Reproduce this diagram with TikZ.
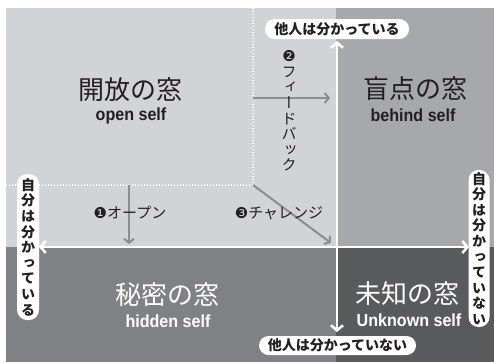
\documentclass[tikz,border=0pt]{standalone}
\usepackage{fontspec}
\usetikzlibrary{arrows.meta}
\newfontfamily\jp{Noto Sans CJK JP}
\newfontfamily\jpv{Noto Sans CJK JP}[RawFeature=+vert]
\newfontfamily\en{Liberation Sans}[FakeStretch=0.92]
\newfontfamily\djv{DejaVu Sans}
\definecolor{cA}{RGB}{210,211,213}
\definecolor{cB}{RGB}{167,168,171}
\definecolor{cC}{RGB}{128,129,132}
\definecolor{cD}{RGB}{89,90,92}
\definecolor{agray}{RGB}{140,141,143}
\definecolor{ink}{RGB}{35,31,32}
\begin{document}
\begin{tikzpicture}[x=1pt,y=-1pt,
  title/.style={inner sep=0pt,font=\jp\fontsize{26}{26}\selectfont},
  sub/.style={inner sep=0pt,font=\en\bfseries\fontsize{17.5}{17.5}\selectfont},
  num/.style={inner sep=0pt,text=ink,font=\jp\fontsize{15}{15}\selectfont},
  garrow/.style={draw=agray,line width=2pt,-{Straight Barb[length=4pt,width=10pt]}},
  axis/.style={draw=white,line width=2.6pt,{Straight Barb[length=5pt,width=12pt]}-{Straight Barb[length=5pt,width=12pt]}},
  hpill/.style={fill=white,rounded corners=9.5pt,inner sep=0pt,text=ink,font=\jp\bfseries\fontsize{14}{14}\selectfont},
  vpill/.style={fill=white,rounded corners=10pt,inner sep=0pt,text=ink,align=center,font=\jpv\bfseries\fontsize{14}{15.6}\selectfont}]
\useasboundingbox (0,0) rectangle (494,362);
% quadrants
\fill[cA] (6,8) rectangle (336,247);
\fill[cB] (336,8) rectangle (494,247);
\fill[cC] (6,247) rectangle (336,362);
\fill[cD] (336,247) rectangle (494,362);
% dotted boundary of expanded open window
\coordinate (dl) at (6,185);
\coordinate (dc) at (253,185);
\coordinate (dt) at (253,8);
\draw[white,line width=1.3pt,dash pattern=on 1.4pt off 1.6pt] (dl) -- (dc) -- (dt);
% gray arrows
\coordinate (fbs) at (253,98);
\coordinate (fbe) at (330,98);
\coordinate (ops) at (129,185);
\coordinate (ope) at (129,244);
\coordinate (chs) at (253,185);
\coordinate (che) at (331,243);
\draw[garrow] (fbs) -- (fbe);
\draw[garrow] (ops) -- (ope);
\draw[garrow] (chs) -- (che);
% axes
\coordinate (vt) at (337,41);
\coordinate (vb) at (337,332);
\coordinate (hl) at (39,247);
\coordinate (hr) at (469,247);
\draw[axis] (vt) -- (vb);
\draw[axis] (hl) -- (hr);
% titles
\node[title,text=ink] (t1) at (130,90) {開放の窓};
\node[sub,text=ink] (s1) at (131,116) {open self};
\node[title,text=ink] (t2) at (415,89) {盲点の窓};
\node[sub,text=ink] (s2) at (413,115) {behind self};
\node[title,text=white] (t3) at (167,295) {秘密の窓};
\node[sub,text=white] (s3) at (168,321) {hidden self};
\node[title,text=white] (t4) at (407,294) {未知の窓};
\node[sub,text=white] (s4) at (409,320) {Unknown self};
% numbered labels
\node[num] (n1) at (130,213) {{\djv ❶}オープン};
\node[num] (n3) at (279,213) {{\djv ❸}チャレンジ};
\node[num,align=center,font=\jpv\fontsize{15}{15.6}\selectfont] (n2) at (289,111) {{\djv ❷}\\フ\\ィ\\ー\\ド\\バ\\ッ\\ク};
% pills
\node[hpill,minimum width=144pt,minimum height=20pt] (p1) at (337,29) {他人は分かっている};
\node[hpill,minimum width=157pt,minimum height=19pt] (p2) at (337.5,345.5) {他人は分かっていない};
\node[vpill,minimum width=22pt,minimum height=146pt] (p3) at (28,247) {自\\分\\は\\分\\か\\っ\\て\\い\\る};
\node[vpill,minimum width=21pt,minimum height=157pt] (p4) at (479,248.5) {自\\分\\は\\分\\か\\っ\\て\\い\\な\\い};
\end{tikzpicture}
\end{document}
